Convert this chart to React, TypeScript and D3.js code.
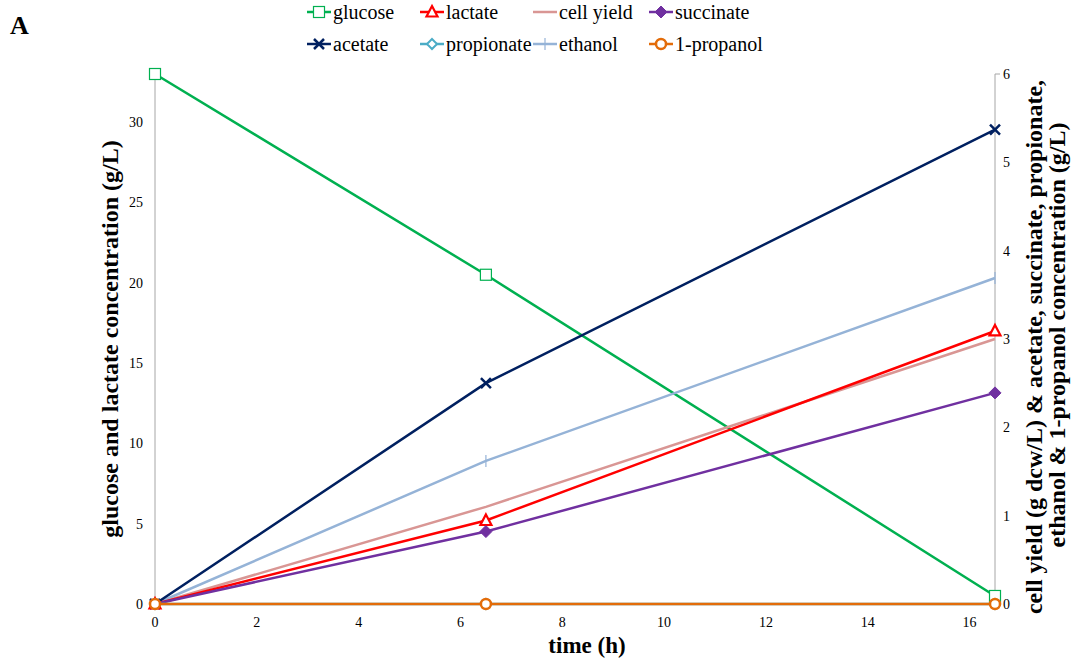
import React from "react";
import * as d3 from "d3";

// time points (h)
const times = [0, 6.5, 16.5];

// left axis series (g/L)
const glucose = [33, 20.5, 0.5];
const lactate = [0, 5.2, 17.0];

// right axis series
const cellYield = [0, 1.1, 3.0];
const succinate = [0, 0.82, 2.39];
const acetate = [0, 2.5, 5.37];
const propionate = [0, 0, 0];
const ethanol = [0, 1.62, 3.69];
const propanol = [0, 0, 0];

const xTicks = [0, 2, 4, 6, 8, 10, 12, 14, 16];
const leftTicks = [0, 5, 10, 15, 20, 25, 30];
const rightTicks = [0, 1, 2, 3, 4, 5, 6];

const legendRow1 = ["glucose", "lactate", "cell yield", "succinate"];
const legendRow2 = ["acetate", "propionate", "ethanol", "1-propanol"];

type Marker = "square" | "triangle" | "none" | "diamond" | "x" | "hollowDiamond" | "plus" | "circle";

const series: { name: string; values: number[]; axis: "L" | "R"; color: string; marker: Marker }[] = [
  { name: "glucose", values: glucose, axis: "L", color: "#00B050", marker: "square" },
  { name: "cell yield", values: cellYield, axis: "R", color: "#D99694", marker: "none" },
  { name: "ethanol", values: ethanol, axis: "R", color: "#95B3D7", marker: "plus" },
  { name: "acetate", values: acetate, axis: "R", color: "#002060", marker: "x" },
  { name: "lactate", values: lactate, axis: "L", color: "#FF0000", marker: "triangle" },
  { name: "succinate", values: succinate, axis: "R", color: "#7030A0", marker: "diamond" },
  { name: "propionate", values: propionate, axis: "R", color: "#4BACC6", marker: "hollowDiamond" },
  { name: "1-propanol", values: propanol, axis: "R", color: "#E36C09", marker: "circle" },
];

function MarkerShape({ type, x, y, color }: { type: Marker; x: number; y: number; color: string }) {
  switch (type) {
    case "square":
      return <rect x={x - 5.5} y={y - 5.5} width={11} height={11} fill="white" stroke={color} strokeWidth={1.2} />;
    case "triangle":
      return <path d={`M${x},${y - 6}L${x + 5.5},${y + 4.5}L${x - 5.5},${y + 4.5}Z`} fill="white" stroke={color} strokeWidth={2.2} />;
    case "diamond":
      return <path d={`M${x},${y - 6}L${x + 6},${y}L${x},${y + 6}L${x - 6},${y}Z`} fill={color} stroke={color} />;
    case "hollowDiamond":
      return <path d={`M${x},${y - 5}L${x + 5},${y}L${x},${y + 5}L${x - 5},${y}Z`} fill="white" stroke={color} strokeWidth={2} />;
    case "x":
      return <path d={`M${x - 5},${y - 5}L${x + 5},${y + 5}M${x - 5},${y + 5}L${x + 5},${y - 5}`} stroke={color} strokeWidth={2.5} />;
    case "plus":
      return <path d={`M${x},${y - 6}L${x},${y + 6}`} stroke={color} strokeWidth={1.2} />;
    case "circle":
      return <circle cx={x} cy={y} r={5} fill="white" stroke={color} strokeWidth={2.5} />;
    default:
      return null;
  }
}

export default function App() {
  const width = 1076;
  const height = 661;
  const left = 155, right = 995, top = 74, bottom = 604;

  const x = d3.scaleLinear().domain([0, 16.5]).range([left, right]);
  const yL = d3.scaleLinear().domain([0, 33]).range([bottom, top]);
  const yR = d3.scaleLinear().domain([0, 6]).range([bottom, top]);

  const legendX = [307, 420, 533, 649];

  return (
    <svg width={width} height={height} style={{ position: "absolute", left: 0, top: 0, fontFamily: "Liberation Serif" }}>
      <rect width={width} height={height} fill="white" />
      <text x={10} y={34} fontSize={26} fontWeight="bold">A</text>

      {/* axes */}
      <line x1={left} x2={left} y1={top} y2={bottom} stroke="#A6A6A6" />
      <line x1={right} x2={right} y1={top} y2={bottom} stroke="#A6A6A6" />
      <line x1={right} x2={right + 5} y1={top} y2={top} stroke="#A6A6A6" />
      <line x1={left} x2={right} y1={bottom} y2={bottom} stroke="#A6A6A6" />

      {leftTicks.map((t) => (
        <text key={t} x={left - 12} y={yL(t) + 5} fontSize={14} textAnchor="end">{t}</text>
      ))}
      {rightTicks.map((t) => (
        <text key={t} x={right + 8} y={yR(t) + 5} fontSize={14}>{t}</text>
      ))}
      {xTicks.map((t) => (
        <text key={t} x={x(t)} y={bottom + 23} fontSize={14} textAnchor="middle">{t}</text>
      ))}

      <text transform="translate(118,339) rotate(-90)" textAnchor="middle" fontSize={24} fontWeight="bold">
        glucose and lactate concentration (g/L)
      </text>
      <text transform="translate(1042,347) rotate(-90)" textAnchor="middle" fontSize={24} fontWeight="bold">
        cell yield (g dcw/L) &amp; acetate, succinate, propionate,
      </text>
      <text transform="translate(1065,335) rotate(-90)" textAnchor="middle" fontSize={24} fontWeight="bold">
        ethanol &amp; 1-propanol concentration (g/L)
      </text>
      <text x={587} y={653} textAnchor="middle" fontSize={23} fontWeight="bold">time (h)</text>

      {/* series */}
      {series.map((s) => {
        const y = s.axis === "L" ? yL : yR;
        const line = d3.line<number>().x((_, i) => x(times[i])).y((v) => y(v));
        return (
          <g key={s.name}>
            <path d={line(s.values) ?? ""} fill="none" stroke={s.color} strokeWidth={2.5} />
            {s.values.map((v, i) => (
              <MarkerShape key={i} type={s.marker} x={x(times[i])} y={y(v)} color={s.color} />
            ))}
          </g>
        );
      })}

      {/* legend */}
      {[legendRow1, legendRow2].map((row, r) =>
        row.map((name, i) => {
          const s = series.find((d) => d.name === name)!;
          const lx = legendX[i];
          const ly = 12 + r * 32;
          return (
            <g key={name}>
              <line x1={lx} x2={lx + 24} y1={ly} y2={ly} stroke={s.color} strokeWidth={2.5} />
              <MarkerShape type={s.marker} x={lx + 12} y={ly} color={s.color} />
              <text x={lx + 26} y={ly + 7} fontSize={20}>{name}</text>
            </g>
          );
        })
      )}
    </svg>
  );
}
